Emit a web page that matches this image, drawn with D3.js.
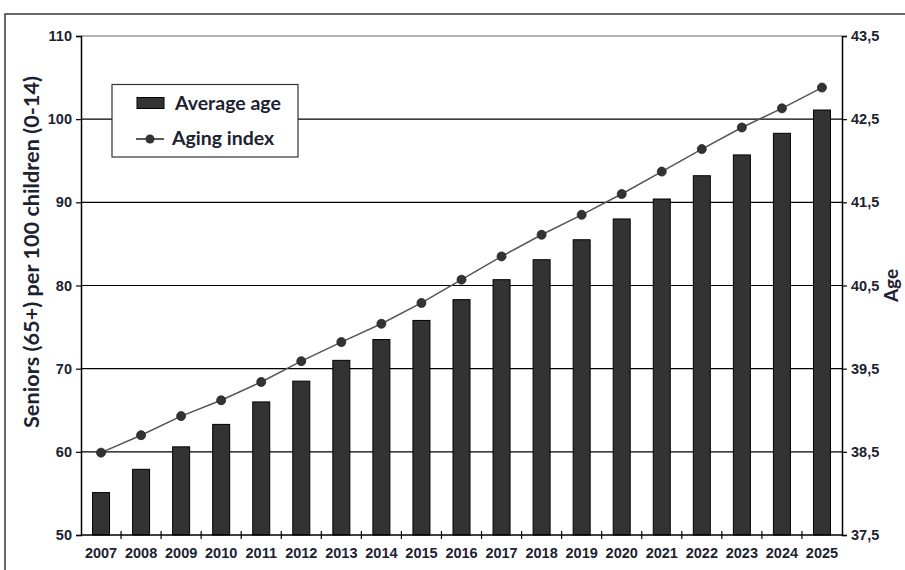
<!DOCTYPE html>
<html>
<head>
<meta charset="utf-8">
<script src="https://cdn.jsdelivr.net/npm/d3@7"></script>
<style>
  body { margin: 0; background: #fff; }
  svg { display: block; }
  .tick text { font-family: "Liberation Sans Narrow", "Arial Narrow", "Liberation Sans", sans-serif; font-weight: bold; font-size: 14.5px; fill: #1c2230; }
  .ttl { font-family: Lato, "Open Sans", sans-serif; font-weight: bold; font-size: 20px; fill: #1c2230; }
</style>
</head>
<body>
<svg id="chart" width="905" height="570"></svg>
<script>
const years = ["2007","2008","2009","2010","2011","2012","2013","2014","2015","2016","2017","2018","2019","2020","2021","2022","2023","2024","2025"];
const averageAge = [38.01,38.29,38.56,38.83,39.10,39.35,39.60,39.85,40.08,40.33,40.57,40.81,41.05,41.30,41.54,41.82,42.07,42.33,42.61];
const agingIndex = [59.9,62.0,64.3,66.2,68.4,70.9,73.2,75.4,77.9,80.7,83.5,86.1,88.5,91.0,93.7,96.4,99.0,101.3,103.8];
const leftTicks = [50,60,70,80,90,100,110];
const rightTicks = [37.5,38.5,39.5,40.5,41.5,42.5,43.5];

const svg = d3.select("#chart");
const m = {left: 81, right: 842, top: 36, bottom: 535};

const xb = d3.scaleBand().domain(years).range([m.left, m.right]);
const yL = d3.scaleLinear().domain([50,110]).range([m.bottom, m.top]);
const yR = d3.scaleLinear().domain([37.5,43.5]).range([m.bottom, m.top]);

// outer frame
svg.append("rect").attr("x",5).attr("y",14).attr("width",930).attr("height",600)
  .attr("fill","none").attr("stroke","#3a3a3a").attr("stroke-width",1.5);

// gridlines
svg.append("g").selectAll("line").data(leftTicks.filter(d => d>50 && d<110)).join("line")
  .attr("x1", m.left).attr("x2", m.right).attr("y1", d=>yL(d)).attr("y2", d=>yL(d))
  .attr("stroke","#000").attr("stroke-width",1.2);
svg.append("line").attr("x1", m.left).attr("x2", m.right).attr("y1", yL(110)).attr("y2", yL(110))
  .attr("stroke","#9a9a9a").attr("stroke-width",1.5);

// bars
svg.append("g").selectAll("rect").data(years).join("rect")
  .attr("x", d => xb(d) + xb.bandwidth()/2 - 8.5)
  .attr("width", 17)
  .attr("y", (d,i) => yR(averageAge[i]))
  .attr("height", (d,i) => yR(37.5) - yR(averageAge[i]))
  .attr("fill","#333").attr("stroke","#000").attr("stroke-width",1);

// line
const line = d3.line().x((d,i) => xb(years[i]) + xb.bandwidth()/2).y(d => yL(d));
svg.append("path").datum(agingIndex).attr("d", line).attr("fill","none")
  .attr("stroke","#555").attr("stroke-width",1.5);
svg.append("g").selectAll("circle").data(agingIndex).join("circle")
  .attr("cx", (d,i) => xb(years[i]) + xb.bandwidth()/2).attr("cy", d => yL(d)).attr("r", 4.5)
  .attr("fill","#333").attr("stroke","#222").attr("stroke-width",0.8);

// axes
const gL = svg.append("g").attr("transform", `translate(${m.left},0)`)
  .call(d3.axisLeft(yL).tickValues(leftTicks).tickSize(5).tickPadding(4).tickFormat(d3.format("d")));
const gR = svg.append("g").attr("transform", `translate(${m.right},0)`)
  .call(d3.axisRight(yR).tickValues(rightTicks).tickSize(5).tickPadding(4).tickFormat(d => d3.format(".1f")(d).replace(".", ",")));
const gX = svg.append("g").attr("transform", `translate(0,${m.bottom})`)
  .call(d3.axisBottom(xb).tickSize(0).tickPadding(13));
[gL,gR,gX].forEach(g => { g.select(".domain").attr("stroke","#000").attr("stroke-width",1.5); g.selectAll(".tick line").attr("stroke","#000").attr("stroke-width",1.2); });
gX.select(".domain").attr("d", `M${m.left},0H${m.right}`);
// category separator ticks on x axis
gX.append("g").selectAll("line").data(years.slice(1)).join("line")
  .attr("x1", d => xb(d)).attr("x2", d => xb(d)).attr("y1", -4).attr("y2", 4)
  .attr("stroke","#000").attr("stroke-width",1.2);

// axis titles
svg.append("text").attr("class","ttl").attr("transform", `translate(39,252) rotate(-90)`)
  .attr("text-anchor","middle").attr("textLength", 352).attr("lengthAdjust","spacingAndGlyphs")
  .text("Seniors (65+) per 100 children (0-14)");
svg.append("text").attr("class","ttl").attr("transform", `translate(898,${(m.top+m.bottom)/2}) rotate(-90)`)
  .attr("text-anchor","middle").style("font-size","19px").text("Age");

// legend
const lg = svg.append("g");
lg.append("rect").attr("x",112).attr("y",84.5).attr("width",186).attr("height",72.5)
  .attr("fill","#fff").attr("stroke","#333").attr("stroke-width",1.2);
lg.append("rect").attr("x",137).attr("y",97.5).attr("width",27).attr("height",11)
  .attr("fill","#333").attr("stroke","#000").attr("stroke-width",1);
lg.append("text").attr("class","ttl").attr("x",175).attr("y",110).style("font-size","19.5px").text("Average age");
lg.append("line").attr("x1",136).attr("x2",164).attr("y1",139).attr("y2",139).attr("stroke","#222").attr("stroke-width",1.5);
lg.append("circle").attr("cx",150).attr("cy",139).attr("r",4.5).attr("fill","#333");
lg.append("text").attr("class","ttl").attr("x",172).attr("y",145).style("font-size","19.5px").text("Aging index");
</script>
</body>
</html>
